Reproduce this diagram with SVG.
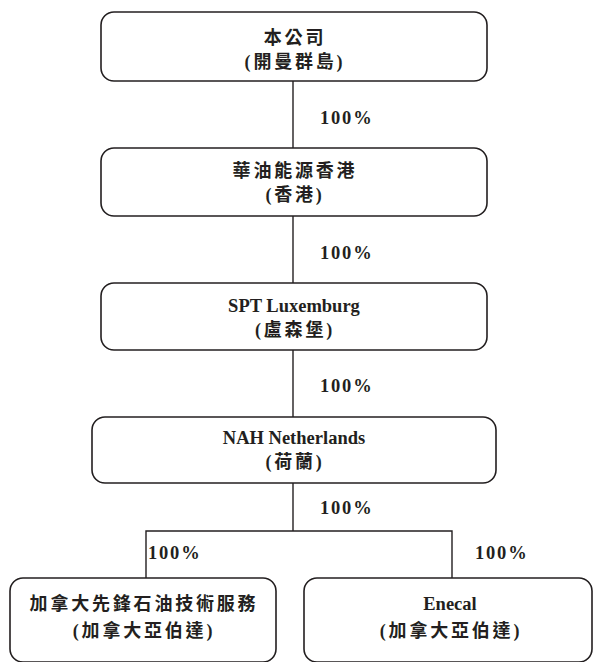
<svg xmlns="http://www.w3.org/2000/svg" width="593" height="662" viewBox="0 0 593 662">
<style>
.box{fill:#fff;stroke:#231f20;stroke-width:1.6}
.ln{stroke:#231f20;stroke-width:1.4;fill:none}
text{font-family:"Liberation Serif","Noto Sans CJK TC",serif;font-weight:bold;font-size:18.5px;fill:#231f20;text-anchor:middle}
.pct{text-anchor:start;letter-spacing:1.8px}
.cjk{font-size:18px;letter-spacing:2.8px}
</style>
<rect width="593" height="662" fill="#fff"/>
<g id="connectors">
<line class="ln" x1="293" y1="81" x2="293" y2="148"/>
<line class="ln" x1="293" y1="216" x2="293" y2="283"/>
<line class="ln" x1="293" y1="350" x2="293" y2="417"/>
<line class="ln" x1="293" y1="483" x2="293" y2="531"/>
<polyline class="ln" points="146,578 146,531 452,531 452,578"/>
<text class="pct" x="320" y="124">100%</text>
<text class="pct" x="320" y="259">100%</text>
<text class="pct" x="320" y="392">100%</text>
<text class="pct" x="320" y="514">100%</text>
<text class="pct" x="148" y="559">100%</text>
<text class="pct" x="475" y="559">100%</text>
</g>
<g id="n1">
<rect class="box" x="101" y="12" width="386" height="69" rx="13"/>
<text class="cjk" x="295" y="44">本公司</text>
<text class="cjk" x="295" y="68">(開曼群島)</text>
</g>
<g id="n2">
<rect class="box" x="101" y="148" width="386" height="68" rx="13"/>
<text class="cjk" x="295" y="177">華油能源香港</text>
<text class="cjk" x="295" y="201">(香港)</text>
</g>
<g id="n3">
<rect class="box" x="101" y="283" width="386" height="67" rx="13"/>
<text x="294" y="312">SPT Luxemburg</text>
<text class="cjk" x="295" y="336">(盧森堡)</text>
</g>
<g id="n4">
<rect class="box" x="92" y="417" width="404" height="66" rx="13"/>
<text x="294" y="444">NAH Netherlands</text>
<text class="cjk" x="295" y="468">(荷蘭)</text>
</g>
<g id="n5">
<rect class="box" x="10" y="578" width="266" height="84" rx="13"/>
<text class="cjk" x="144" y="610">加拿大先鋒石油技術服務</text>
<text class="cjk" x="144" y="637">(加拿大亞伯達)</text>
</g>
<g id="n6">
<rect class="box" x="304" y="578" width="288" height="84" rx="13"/>
<text x="450" y="610">Enecal</text>
<text class="cjk" x="451" y="637">(加拿大亞伯達)</text>
</g>
</svg>
